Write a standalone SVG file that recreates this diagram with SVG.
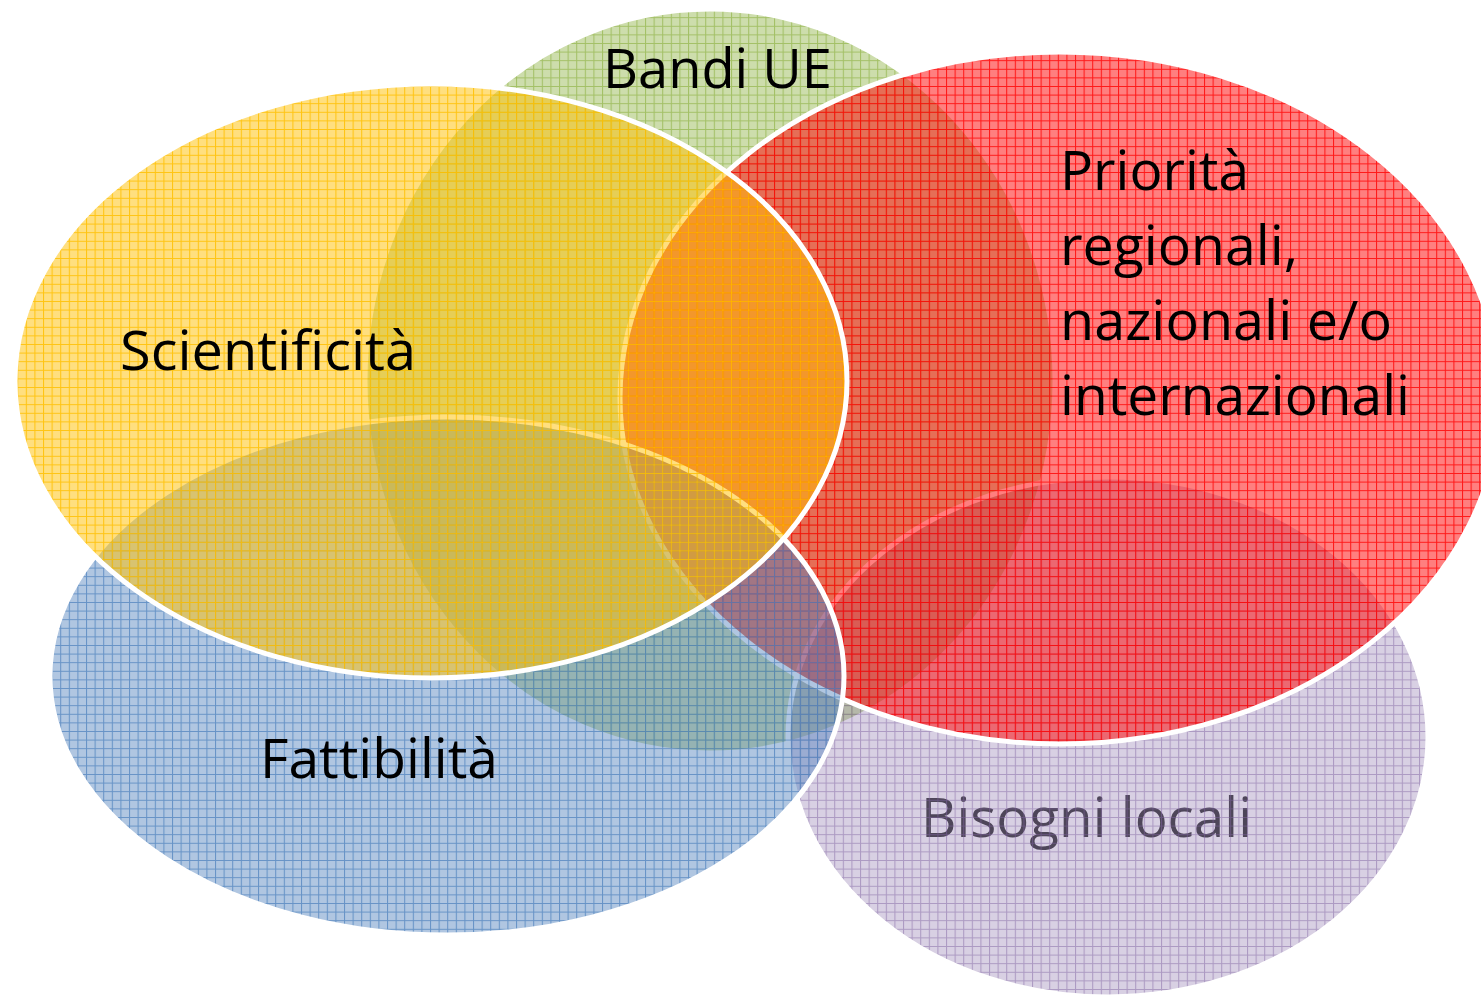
<svg xmlns="http://www.w3.org/2000/svg" width="1481" height="999" viewBox="0 0 1481 999">
<defs>
<pattern id="pg" patternUnits="userSpaceOnUse" width="8.6" height="8.6">
<rect width="8.6" height="8.6" fill="#9BBB59" fill-opacity="0.5"/>
<path d="M0 0.5H8.6M0.5 0V8.6" stroke="#9BBB59" stroke-opacity="0.85" stroke-width="1.1" fill="none"/>
</pattern>
<pattern id="pp" patternUnits="userSpaceOnUse" width="8.6" height="8.6">
<rect width="8.6" height="8.6" fill="#8064A2" fill-opacity="0.3"/>
<path d="M0 0.5H8.6M0.5 0V8.6" stroke="#8064A2" stroke-opacity="0.5" stroke-width="1.1" fill="none"/>
</pattern>
<pattern id="pr" patternUnits="userSpaceOnUse" width="8.6" height="8.6">
<rect width="8.6" height="8.6" fill="#FF0000" fill-opacity="0.5"/>
<path d="M0 0.5H8.6M0.5 0V8.6" stroke="#FF0000" stroke-opacity="0.8" stroke-width="1.1" fill="none"/>
</pattern>
<pattern id="pb" patternUnits="userSpaceOnUse" width="8.6" height="8.6">
<rect width="8.6" height="8.6" fill="#4F81BD" fill-opacity="0.45"/>
<path d="M0 0.5H8.6M0.5 0V8.6" stroke="#4F81BD" stroke-opacity="0.75" stroke-width="1.1" fill="none"/>
</pattern>
<pattern id="py" patternUnits="userSpaceOnUse" width="8.6" height="8.6">
<rect width="8.6" height="8.6" fill="#FFC000" fill-opacity="0.5"/>
<path d="M0 0.5H8.6M0.5 0V8.6" stroke="#FFC000" stroke-opacity="0.85" stroke-width="1.1" fill="none"/>
</pattern>
</defs>
<style>
.c{stroke:#FFFFFF;stroke-width:5}
.t{font-family:"Open Sans","Noto Sans","DejaVu Sans",sans-serif;font-size:54px;fill:#000000}
</style>
<rect width="1481" height="999" fill="#FFFFFF"/>
<g id="bandi">
<ellipse class="c" cx="710" cy="381" rx="345" ry="372" fill="url(#pg)"/>
<text class="t" x="603" y="88" textLength="229" lengthAdjust="spacingAndGlyphs">Bandi UE</text>
</g>
<g id="bisogni">
<text class="t" x="921" y="837" textLength="331" lengthAdjust="spacingAndGlyphs" style="fill:#3A3A3A">Bisogni locali</text>
<ellipse class="c" cx="1108" cy="737" rx="320" ry="260" fill="url(#pp)"/>
</g>
<g id="priorita">
<ellipse class="c" cx="1060" cy="398" rx="440" ry="346" fill="url(#pr)"/>
<text class="t" x="1060" y="190" textLength="189" lengthAdjust="spacingAndGlyphs">Priorità</text>
<text class="t" x="1060" y="265" textLength="238" lengthAdjust="spacingAndGlyphs">regionali,</text>
<text class="t" x="1060" y="340" textLength="332" lengthAdjust="spacingAndGlyphs">nazionali e/o</text>
<text class="t" x="1060" y="415" textLength="350" lengthAdjust="spacingAndGlyphs">internazionali</text>
</g>
<g id="fattibilita">
<ellipse class="c" cx="447" cy="676" rx="397" ry="259" fill="url(#pb)"/>
<text class="t" x="260" y="778" textLength="238" lengthAdjust="spacingAndGlyphs">Fattibilità</text>
</g>
<g id="scientificita">
<ellipse class="c" cx="431" cy="381" rx="416" ry="297" fill="url(#py)"/>
<text class="t" x="120" y="370" textLength="296" lengthAdjust="spacingAndGlyphs">Scientificità</text>
</g>
<g id="connectors"/>
</svg>
